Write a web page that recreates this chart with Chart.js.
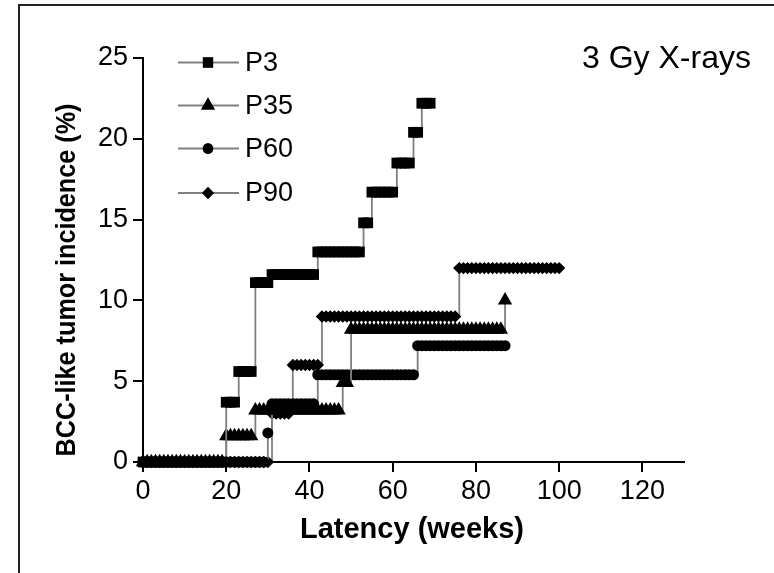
<!DOCTYPE html>
<html><head><meta charset="utf-8">
<script src="https://cdn.jsdelivr.net/npm/chart.js@4/dist/chart.umd.min.js"></script>
<style>html,body{margin:0;padding:0;background:#fff;}#wrap{width:774px;height:573px;position:relative;}</style>
</head><body><div id="wrap"><canvas id="c" width="774" height="573"></canvas></div>
<script>
// ---- data (weeks of follow-up and cumulative incidence %) ----
const weeks = [0,1,2,3,4,5,6,7,8,9,10,11,12,13,14,15,16,17,18,19,20,21,22,23,24,25,26,27,28,29,30,31,32,33,34,35,36,37,38,39,40,41,42,43,44,45,46,47,48,49,50,51,52,53,54,55,56,57,58,59,60,61,62,63,64,65,66,67,68,69,70,71,72,73,74,75,76,77,78,79,80,81,82,83,84,85,86,87,88,89,90,91,92,93,94,95,96,97,98,99,100];
const seriesNames = ['P3','P35','P60','P90'];
const p3 = [0,0,0,0,0,0,0,0,0,0,0,0,0,0,0,0,0,0,0,0,
  3.7,3.7,3.7, 5.6,5.6,5.6,5.6, 11.1,11.1,11.1,11.1,
  11.6,11.6,11.6,11.6,11.6,11.6,11.6,11.6,11.6,11.6,11.6,
  13.0,13.0,13.0,13.0,13.0,13.0,13.0,13.0,13.0,13.0,13.0,
  14.8,14.8, 16.7,16.7,16.7,16.7,16.7,16.7, 18.5,18.5,18.5,18.5,
  20.4,20.4, 22.2,22.2,22.2];
const p35 = [0,0,0,0,0,0,0,0,0,0,0,0,0,0,0,0,0,0,0,0,
  1.6,1.6,1.6,1.6,1.6,1.6,1.6,
  3.2,3.2,3.2,3.2,3.2,3.2,3.2,3.2,3.2,3.2,3.2,3.2,3.2,3.2,3.2,3.2,3.2,3.2,3.2,3.2,3.2,
  4.9,4.9,
  8.2,8.2,8.2,8.2,8.2,8.2,8.2,8.2,8.2,8.2,8.2,8.2,8.2,8.2,8.2,8.2,8.2,8.2,8.2,8.2,8.2,8.2,8.2,8.2,8.2,8.2,8.2,8.2,8.2,8.2,8.2,8.2,8.2,8.2,8.2,8.2,8.2,
  10.0];
const p60 = [0,0,0,0,0,0,0,0,0,0,0,0,0,0,0,0,0,0,0,0,0,0,0,0,0,0,0,0,0,0,
  1.8,
  3.6,3.6,3.6,3.6,3.6,3.6,3.6,3.6,3.6,3.6,3.6,
  5.4,5.4,5.4,5.4,5.4,5.4,5.4,5.4,5.4,5.4,5.4,5.4,5.4,5.4,5.4,5.4,5.4,5.4,5.4,5.4,5.4,5.4,5.4,5.4,
  7.2,7.2,7.2,7.2,7.2,7.2,7.2,7.2,7.2,7.2,7.2,7.2,7.2,7.2,7.2,7.2,7.2,7.2,7.2,7.2,7.2,7.2];
const p90 = [0,0,0,0,0,0,0,0,0,0,0,0,0,0,0,0,0,0,0,0,0,0,0,0,0,0,0,0,0,0,0,
  3.0,3.0,3.0,3.0,3.0,
  6.0,6.0,6.0,6.0,6.0,6.0,6.0,
  9.0,9.0,9.0,9.0,9.0,9.0,9.0,9.0,9.0,9.0,9.0,9.0,9.0,9.0,9.0,9.0,9.0,9.0,9.0,9.0,9.0,9.0,9.0,9.0,9.0,9.0,9.0,9.0,9.0,9.0,9.0,9.0,9.0,
  12.0,12.0,12.0,12.0,12.0,12.0,12.0,12.0,12.0,12.0,12.0,12.0,12.0,12.0,12.0,12.0,12.0,12.0,12.0,12.0,12.0,12.0,12.0,12.0,12.0];
const xTicks = [0,20,40,60,80,100,120];
const yTicks = [0,5,10,15,20,25];
const xTitle = 'Latency (weeks)';
const yTitle = 'BCC-like tumor incidence (%)';
const annotation = '3 Gy X-rays';

// ---- styling ----
const FONT = '"Liberation Sans", Arial, Helvetica, sans-serif';
const LINE = '#808080';
const styles = [
  {pointStyle:'rect', radius:7.6},
  {pointStyle:'triangle', radius:8.3},
  {pointStyle:'circle', radius:5.5},
  {pointStyle:'rectRot', radius:6.2}
];
const values = [p3, p35, p60, p90];

const datasets = values.map((vals, i) => ({
  label: seriesNames[i],
  data: vals.map((v, k) => ({x: weeks[k], y: v})),
  stepped: 'before',
  borderColor: LINE,
  borderWidth: 1.8,
  backgroundColor: '#000',
  pointStyle: styles[i].pointStyle,
  pointRadius: styles[i].radius,
  pointHoverRadius: styles[i].radius,
  pointBackgroundColor: '#000',
  pointBorderColor: '#000',
  pointBorderWidth: 0,
  fill: false,
  clip: false
}));

function drawMarker(ctx, style, r, x, y) {
  if (Chart.helpers && Chart.helpers.drawPoint) {
    ctx.fillStyle = '#000'; ctx.strokeStyle = '#000'; ctx.lineWidth = 0.001;
    Chart.helpers.drawPoint(ctx, {pointStyle: style, radius: r, rotation: 0, borderWidth: 0}, x, y);
    ctx.fill();
  }
}

const decor = {
  id: 'decor',
  beforeDraw(chart) {
    const ctx = chart.ctx;
    ctx.save();
    ctx.fillStyle = '#fff';
    ctx.fillRect(0, 0, chart.width, chart.height);
    ctx.strokeStyle = '#222';
    ctx.lineWidth = 2;
    ctx.strokeRect(19, 5, 800, 600);
    ctx.restore();
  },
  afterDraw(chart) {
    const ctx = chart.ctx;
    ctx.save();
    // legend
    const rows = [62.5, 105.5, 148.5, 193];
    seriesNames.forEach((name, i) => {
      const y = rows[i];
      ctx.strokeStyle = LINE; ctx.lineWidth = 2;
      ctx.beginPath(); ctx.moveTo(178, y); ctx.lineTo(239, y); ctx.stroke();
      drawMarker(ctx, styles[i].pointStyle, styles[i].radius * 0.95, 208, y);
      ctx.fillStyle = '#000';
      ctx.font = '27px ' + FONT;
      ctx.textAlign = 'left'; ctx.textBaseline = 'middle';
      ctx.fillText(name, 245, y + 1);
    });
    // annotation
    ctx.fillStyle = '#000';
    ctx.font = '32px ' + FONT;
    ctx.textAlign = 'left'; ctx.textBaseline = 'middle';
    ctx.fillText(annotation, 582, 59);
    // axis titles
    ctx.font = 'bold 29px ' + FONT;
    ctx.textAlign = 'center';
    ctx.fillText(xTitle, 412, 530);
    ctx.save();
    ctx.translate(67, 280);
    ctx.rotate(-Math.PI / 2);
    ctx.scale(0.9, 1);
    ctx.font = 'bold 28px ' + FONT;
    ctx.fillText(yTitle, 0, 0);
    ctx.restore();
    ctx.restore();
  }
};

new Chart(document.getElementById('c'), {
  type: 'line',
  data: {datasets},
  plugins: [decor],
  options: {
    responsive: false,
    animation: false,
    devicePixelRatio: 1,
    layout: {padding: {left: 0, top: 58, right: 90, bottom: 0}},
    plugins: {legend: {display: false}, tooltip: {enabled: false}},
    elements: {line: {tension: 0}},
    scales: {
      x: {
        type: 'linear', min: 0, max: 130,
        afterFit: s => { s.height = 111; },
        afterBuildTicks: s => { s.ticks = xTicks.map(v => ({value: v})); },
        ticks: {font: {family: FONT, size: 27}, color: '#000', padding: 3, maxRotation: 0, autoSkip: false},
        grid: {drawOnChartArea: false, drawTicks: true, tickLength: 10, color: '#000', lineWidth: 2},
        border: {display: true, color: '#000', width: 2}
      },
      y: {
        type: 'linear', min: 0, max: 25,
        afterFit: s => { s.width = 143; },
        afterBuildTicks: s => { s.ticks = yTicks.map(v => ({value: v})); },
        ticks: {font: {family: FONT, size: 27}, color: '#000', padding: 5, autoSkip: false},
        grid: {drawOnChartArea: false, drawTicks: true, tickLength: 10, color: '#000', lineWidth: 2},
        border: {display: true, color: '#000', width: 2}
      }
    }
  }
});
</script>
</body></html>
